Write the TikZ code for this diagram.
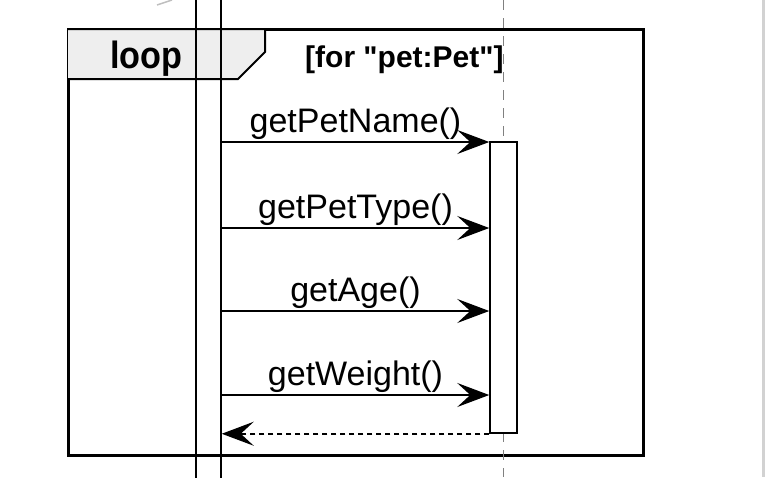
\documentclass[tikz,border=0pt]{standalone}
\usepackage{fontspec}
\setmainfont{Liberation Sans}[Ligatures=TeXOff]
\usetikzlibrary{arrows.meta}
\definecolor{tabgray}{RGB}{238,238,238}

\begin{document}
\begin{tikzpicture}[x=1pt, y=-1pt,
        msg/.style = {line width=1.6pt, -{Stealth[length=32pt, width=24pt, inset=13pt]}},
        ret/.style = {msg, dash pattern=on 5pt off 4pt},
        lbl/.style = {font=\fontsize{34}{36}\selectfont, inner sep=0pt, anchor=base},
        bar/.style = {draw, line width=1.5pt, minimum width=25pt, inner sep=0pt}]
                \useasboundingbox (0,0) rectangle (765,477);
                % loop frame and its tab
                \draw[line width=3pt] (68,29) rectangle (643,455);
                \draw[line width=2pt, fill=tabgray] (68,29) -- (265,29) -- (265,52) -- (238,79) -- (68,79);
                \node[font=\bfseries\fontsize{38}{40}\selectfont, inner sep=0pt, anchor=base west] (looplbl) at (110,68) {\scalebox{0.9}[1]{loop}};
                \node[font=\bfseries\fontsize{30}{32}\selectfont, inner sep=0pt, anchor=base west] (guard) at (305,67) {[for "pet:Pet"]};
                % lifelines
                \node[bar, minimum height=500pt] (me) at (208.5,238.5) {};
                \draw[gray, line width=1.2pt, dash pattern=on 10pt off 8pt] (503.5,0) -- (503.5,477);
                \node[bar, fill=white, minimum width=27pt, minimum height=291pt] (pet) at (503.5,287.5) {};
                % messages
                \foreach \y/\txt in {142/getPetName(), 228/getPetType(), 311/getAge(), 395/getWeight()}{
                        \coordinate (m) at (0,\y);
                        \draw[msg] (me.east |- m) -- (pet.west |- m) node[lbl, midway, yshift=10pt] {\txt};
                }
                \draw[ret] (pet.south west) -- (me.east |- pet.south);
                \draw[gray!50, line width=1.5pt] (157,5) -- (172,0);
                \fill[gray!35] (762,0) rectangle (765,477);
\end{tikzpicture}
\end{document}
